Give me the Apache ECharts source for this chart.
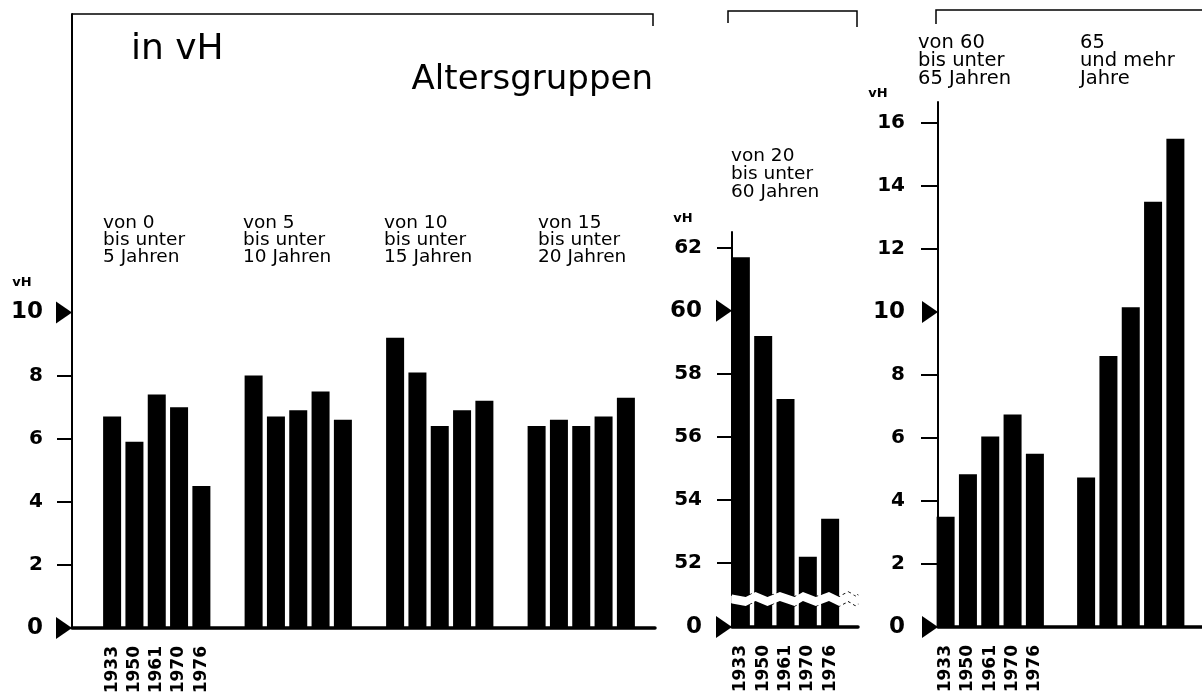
<!DOCTYPE html>
<html><head><meta charset="utf-8">
<script src="https://cdn.jsdelivr.net/npm/echarts@6/dist/echarts.min.js"></script>
<style>html,body{margin:0;padding:0;background:#fff}#c{width:1202px;height:697px}</style>
</head><body><div id="c"></div>
<script>
// ---- data ----
const years = ['1933', '1950', '1961', '1970', '1976'];

// left panel: age groups under 20 (values by year, one entry per age group)
const leftGroups = ['von 0\nbis unter\n5 Jahren', 'von 5\nbis unter\n10 Jahren', 'von 10\nbis unter\n15 Jahren', 'von 15\nbis unter\n20 Jahren'];
const left1933 = [6.7, 8.0, 9.2, 6.4];
const left1950 = [5.9, 6.7, 8.1, 6.6];
const left1961 = [7.4, 6.9, 6.4, 6.4];
const left1970 = [7.0, 7.5, 6.9, 6.7];
const left1976 = [4.5, 6.6, 7.2, 7.3];

// middle panel: 20 to under 60 (one value per year)
const midGroups = ['von 20\nbis unter\n60 Jahren'];
const mid2060 = [61.7, 59.2, 57.2, 52.2, 53.4];

// right panel
const rightGroups = ['von 60\nbis unter\n65 Jahren', '65\nund mehr\nJahre'];
const right6065 = [3.5, 4.85, 6.05, 6.75, 5.5];
const right65plus = [4.75, 8.6, 10.15, 13.5, 15.5];

// tick labels
const leftLabels = [0, 2, 4, 6, 8, 10];
const leftTicks = [2, 4, 6, 8];
const leftArrows = [0, 10];
const midLabels = [0, 52, 54, 56, 58, 60, 62];
const midTicks = [52, 54, 56, 58, 62];
const midArrows = [0, 60];
const rightLabels = [0, 2, 4, 6, 8, 10, 12, 14, 16];
const rightTicks = [2, 4, 6, 8, 12, 14, 16];
const rightArrows = [0, 10];

// ---- build ----
const FONT = "'DejaVu Sans', sans-serif";
const grids = [], xAxes = [], yAxes = [], series = [];

function addPanel(p) {
  const gf = grids.length;
  const h = p.bottom - p.top;
  grids.push({ left: p.axisX, top: p.top, width: p.baseEnd - p.axisX, height: h });
  grids.push({ left: p.barLeft, top: p.top, width: p.barRight - p.barLeft, height: h });
  const yCommon = { type: 'value', min: 0, max: p.max };
  if (p.breaks) yCommon.breaks = p.breaks;
  xAxes.push({
    gridIndex: gf, type: 'value', min: 0, max: 1,
    axisLine: { show: true, lineStyle: { color: '#000', width: 3.5 } },
    axisTick: { show: false }, axisLabel: { show: false }, splitLine: { show: false }
  });
  yAxes.push(Object.assign({}, yCommon, {
    gridIndex: gf,
    axisLine: { show: true, lineStyle: { color: '#000', width: 2 } },
    axisTick: { show: true, length: p.tickLen, customValues: p.ticks, lineStyle: { color: '#000', width: 2 } },
    axisLabel: {
      show: true, customValues: p.labels, margin: p.margin,
      formatter: function (v) { return (p.arrows.indexOf(+v) >= 0 ? '{b|' : '{n|') + v + '}'; },
      rich: {
        b: { fontSize: 23, fontWeight: 'bold', fontFamily: FONT, color: '#000' },
        n: { fontSize: 20, fontWeight: 'bold', fontFamily: FONT, color: '#000' }
      }
    },
    splitLine: { show: false },
    breakArea: {
      show: true, expandOnClick: false,
      itemStyle: { color: '#fff', borderColor: '#000', borderWidth: 1.5, opacity: 1 },
      zigzagAmplitude: 2.5, zigzagMinSpan: 8, zigzagMaxSpan: 16
    }
  }));
  xAxes.push({ gridIndex: gf + 1, type: 'category', data: p.cats, show: false });
  yAxes.push(Object.assign({}, yCommon, { gridIndex: gf + 1, show: false }));

  p.values.forEach(function (arr, k) {
    series.push({
      type: 'bar', name: years[k], xAxisIndex: gf + 1, yAxisIndex: gf + 1,
      barWidth: 18, barGap: '24%', itemStyle: { color: '#000' },
      label: {
        show: false, position: 'bottom', distance: 18, rotate: 90,
        align: 'right', verticalAlign: 'middle', formatter: '{a}',
        fontSize: 17, fontWeight: 'bold', fontFamily: FONT, color: '#000'
      },
      data: arr.map(function (v, i) { return i === 0 ? { value: v, label: { show: true } } : v; })
    });
  });
  series.push({
    type: 'scatter', xAxisIndex: gf, yAxisIndex: gf, silent: true, clip: false, z: 5,
    data: p.arrows.map(function (v) { return [0, v]; }),
    symbol: 'triangle', symbolSize: [22, 16], symbolRotate: -90, symbolOffset: [-8, 0],
    itemStyle: { color: '#000', opacity: 1 }
  });
}

function byYear(groupsArrays) { // one array per group -> one array per year
  return years.map(function (_, k) { return groupsArrays.map(function (g) { return g[k]; }); });
}

addPanel({
  axisX: 72, baseEnd: 655, top: 14, bottom: 628, max: 614 / 31.55,
  barLeft: 86, barRight: 652, cats: leftGroups,
  values: [left1933, left1950, left1961, left1970, left1976],
  labels: leftLabels, ticks: leftTicks, arrows: leftArrows, margin: 29, tickLen: 15
});
addPanel({
  axisX: 732, baseEnd: 858, top: 232, bottom: 627, max: 62.5,
  breaks: [{ start: 0.75, end: 51, gap: '2.25%' }],
  barLeft: 713, barRight: 858, cats: midGroups,
  values: byYear([mid2060]),
  labels: midLabels, ticks: midTicks, arrows: midArrows, margin: 30, tickLen: 15
});
addPanel({
  axisX: 938, baseEnd: 1202, top: 102, bottom: 627, max: 525 / 31.5,
  barLeft: 920, barRight: 1201, cats: rightGroups,
  values: byYear([right6065, right65plus]),
  labels: rightLabels, ticks: rightTicks, arrows: rightArrows, margin: 33, tickLen: 17
});

function txt(x, y, text, size, opts) {
  opts = opts || {};
  return {
    type: 'text', x: x, y: y, silent: true, z: 10,
    style: {
      text: text, fill: '#000', fontFamily: FONT, fontSize: size,
      fontWeight: opts.weight || 'normal', align: opts.align || 'left',
      verticalAlign: opts.va || 'top', lineHeight: opts.lh || size
    }
  };
}
function line(points, w) {
  return { type: 'polyline', silent: true, shape: { points: points }, style: { stroke: '#000', lineWidth: w || 1.5, fill: null } };
}

const graphic = [
  line([[72, 14], [653, 14], [653, 26]]),
  line([[728, 23], [728, 11], [857, 11], [857, 27]]),
  line([[936, 24], [936, 10], [1202, 10]]),
  txt(131, 50, 'in vH', 36, { va: 'middle' }),
  txt(653, 80, 'Altersgruppen', 34, { va: 'middle', align: 'right' }),
  txt(22, 283, 'vH', 13, { va: 'middle', weight: 'bold', align: 'center' }),
  txt(683, 219, 'vH', 13, { va: 'middle', weight: 'bold', align: 'center' }),
  txt(878, 94, 'vH', 13, { va: 'middle', weight: 'bold', align: 'center' }),
  txt(103, 215, leftGroups[0], 18.5, { lh: 17 }),
  txt(243, 215, leftGroups[1], 18.5, { lh: 17 }),
  txt(384, 215, leftGroups[2], 18.5, { lh: 17 }),
  txt(538, 215, leftGroups[3], 18.5, { lh: 17 }),
  txt(731, 147, midGroups[0], 18.5, { lh: 18 }),
  txt(918, 34, rightGroups[0], 19.5, { lh: 18 }),
  txt(1080, 34, rightGroups[1], 19.5, { lh: 18 })
];

const chart = echarts.init(document.getElementById('c'), null, { renderer: 'canvas' });
chart.setOption({
  animation: false,
  backgroundColor: '#fff',
  grid: grids, xAxis: xAxes, yAxis: yAxes, series: series, graphic: graphic
});
</script></body></html>
